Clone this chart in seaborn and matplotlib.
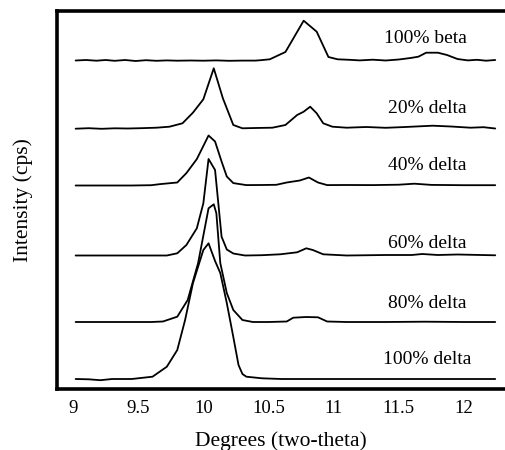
import numpy as np
import pandas as pd
import matplotlib
matplotlib.use("Agg")
import matplotlib.pyplot as plt
import seaborn as sns

# sample names, bottom to top of the stack
samples = ["100% delta", "80% delta", "60% delta", "40% delta", "20% delta", "100% beta"]

# traces (intensity above each trace's own baseline)
tt_delta100 = [9.02, 9.12, 9.21, 9.30, 9.45, 9.61, 9.72, 9.80, 9.86, 9.92, 10.00, 10.04, 10.09,
               10.13, 10.18, 10.23, 10.27, 10.30, 10.33, 10.45, 10.60, 10.90, 11.20, 11.60, 12.00, 12.24]
i_delta100 = [0, -0.3, -1.2, 0, 0, 2.3, 12.3, 29, 59, 95.7, 129, 135.7, 118,
              106, 76, 42, 14, 5, 2.3, 0.7, 0, 0, 0, 0, 0, 0]

tt_delta80 = [9.02, 9.30, 9.60, 9.69, 9.80, 9.88, 9.96, 10.04, 10.08, 10.10, 10.13, 10.18, 10.23,
              10.30, 10.38, 10.50, 10.64, 10.69, 10.79, 10.88, 10.95, 11.10, 11.40, 11.70, 12.00, 12.24]
i_delta80 = [0, 0, 0, 0.5, 5.3, 22, 59, 113.7, 117.7, 108.7, 59, 29, 12,
             2, 0, 0, 0.5, 4.3, 5, 4.7, 0.5, 0, 0, 0.3, 0, 0]

tt_delta60 = [9.02, 9.30, 9.60, 9.72, 9.80, 9.87, 9.95, 10.00, 10.04, 10.09, 10.14, 10.18, 10.23,
              10.32, 10.45, 10.59, 10.72, 10.79, 10.84, 10.92, 11.10, 11.40, 11.60, 11.68, 11.80, 11.95, 12.24]
i_delta60 = [0, 0, 0, 0, 2.2, 10.5, 27.2, 52.2, 96.5, 85.5, 18.8, 6, 2,
             0, 0.3, 1.2, 3.2, 7.2, 5.5, 1.2, 0, 0.5, 0.5, 1.5, 0.5, 1.0, 0.2]

tt_delta40 = [9.02, 9.15, 9.30, 9.45, 9.60, 9.67, 9.80, 9.87, 9.95, 10.04, 10.09, 10.14, 10.18,
              10.23, 10.33, 10.45, 10.56, 10.64, 10.74, 10.81, 10.88, 10.95, 11.10, 11.30, 11.50,
              11.62, 11.75, 12.00, 12.24]
i_delta40 = [0, 0, 0, 0, 0.3, 1.4, 3, 12.4, 26.4, 50, 44, 24, 9,
             2.4, 0.4, 0.5, 0.7, 3, 5, 8, 3, 0.4, 0.5, 0.4, 0.8,
             1.8, 0.6, 0.3, 0.3]

tt_delta20 = [9.02, 9.12, 9.22, 9.32, 9.42, 9.52, 9.64, 9.74, 9.84, 9.92, 10.00, 10.08, 10.15,
              10.23, 10.30, 10.40, 10.53, 10.63, 10.72, 10.77, 10.82, 10.87, 10.92, 10.99, 11.10,
              11.25, 11.40, 11.55, 11.76, 11.90, 12.05, 12.15, 12.24]
i_delta20 = [0.3, 0.8, 0.2, 0.7, 0.5, 0.8, 1.3, 2.3, 5.7, 16.3, 29.7, 60.7, 30.7,
             4, 0.7, 1.0, 1.3, 4, 14, 17.3, 22.3, 15.7, 5.7, 2.3, 1.3,
             2.0, 1.2, 2.0, 3.3, 2.5, 1.3, 1.8, 0.5]

tt_beta = [9.02, 9.10, 9.18, 9.25, 9.32, 9.40, 9.48, 9.56, 9.64, 9.72, 9.80, 9.90, 10.00,
           10.10, 10.20, 10.30, 10.40, 10.44, 10.51, 10.63, 10.77, 10.87, 10.96, 11.03, 11.12,
           11.20, 11.30, 11.40, 11.50, 11.59, 11.65, 11.71, 11.80, 11.87, 11.95, 12.03, 12.10,
           12.17, 12.24]
i_beta = [0.5, 1.0, 0.3, 1.0, 0.2, 1.0, 0, 0.8, 0.2, 0.6, 0.3, 0.5, 0.3,
          0.6, 0.2, 0.4, 0.4, 0.8, 1.7, 9, 40.3, 29.3, 4, 1.7, 1.2,
          0.6, 1.3, 0.5, 1.5, 3, 4.3, 8.3, 8.3, 6, 2, 0.6, 1.2,
          0.3, 1.0]

two_theta = [tt_delta100, tt_delta80, tt_delta60, tt_delta40, tt_delta20, tt_beta]
intensity = [i_delta100, i_delta80, i_delta60, i_delta40, i_delta20, i_beta]

# vertical stacking of the traces and the lift of each label above its trace
stack_offset = [10, 67, 133.5, 203.5, 260, 328]
label_lift = [19, 18, 12, 20, 21, 23]
label_right = [12.06, 12.02, 12.02, 12.02, 12.02, 12.02]

sns.set_style("white")
plt.rcParams["font.family"] = ["Liberation Serif", "DejaVu Serif"]
plt.rcParams["font.size"] = 13
plt.rcParams["text.color"] = "black"
plt.rcParams["axes.labelcolor"] = "black"
plt.rcParams["xtick.color"] = "black"

fig = plt.figure(figsize=(5.05, 4.5), dpi=100)
ax = fig.add_axes([57 / 505, 61 / 450, 448 / 505, 378.3 / 450])

for name, tt, inten, off, lift, xr in zip(samples, two_theta, intensity, stack_offset,
                                          label_lift, label_right):
    df = pd.DataFrame({"two_theta": tt, "cps": np.array(inten) + off})
    sns.lineplot(data=df, x="two_theta", y="cps", ax=ax, color="black",
                 linewidth=1.3, sort=False, estimator=None)
    ax.text(xr, off + lift, name, ha="right", va="center", fontsize=14)

ax.set_xlim(8.877, 12.315)
ax.set_ylim(0, 378.3)
ax.set_xticks([9, 9.5, 10, 10.5, 11, 11.5, 12])
ax.set_xticklabels(["9", "9.5", "10", "10.5", "11", "11.5", "12"])
ax.set_yticks([])
ax.tick_params(axis="x", length=0, pad=8, labelsize=13.5)

for side in ["left", "top", "bottom"]:
    ax.spines[side].set_linewidth(2.6)
    ax.spines[side].set_color("black")
ax.spines["right"].set_visible(False)

ax.set_xlabel("Degrees (two-theta)", fontsize=15.5, labelpad=10)
ax.set_ylabel("Intensity (cps)", fontsize=15.5, labelpad=17)

fig.savefig("out.png", dpi=100)
